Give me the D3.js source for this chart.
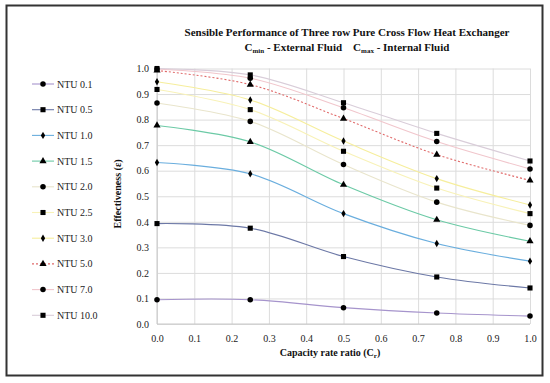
<!DOCTYPE html>
<html>
<head>
<meta charset="utf-8">
<script src="https://cdn.jsdelivr.net/npm/d3@7"></script>
<style>
  body { margin: 0; background: #fff; }
  svg { display: block; font-family: "Liberation Serif", "Times New Roman", serif; }
</style>
</head>
<body>
<svg id="chart" width="550" height="383"></svg>
<script>
// capacity rate ratio values (x)
const crValues = [0, 0.25, 0.5, 0.75, 1.0];
const xTicks = [0, 0.1, 0.2, 0.3, 0.4, 0.5, 0.6, 0.7, 0.8, 0.9, 1.0];
const yTicks = [0, 0.1, 0.2, 0.3, 0.4, 0.5, 0.6, 0.7, 0.8, 0.9, 1.0];

// series names
const seriesNames = ["NTU 0.1", "NTU 0.5", "NTU 1.0", "NTU 1.5", "NTU 2.0",
                     "NTU 2.5", "NTU 3.0", "NTU 5.0", "NTU 7.0", "NTU 10.0"];

// effectiveness for each NTU
const ntu01  = [0.095, 0.095, 0.064, 0.043, 0.031];
const ntu05  = [0.393, 0.375, 0.264, 0.184, 0.141];
const ntu10  = [0.632, 0.588, 0.432, 0.315, 0.246];
const ntu15  = [0.777, 0.713, 0.545, 0.408, 0.324];
const ntu20  = [0.865, 0.793, 0.624, 0.477, 0.386];
const ntu25  = [0.918, 0.839, 0.676, 0.532, 0.432];
const ntu30  = [0.948, 0.877, 0.716, 0.569, 0.466];
const ntu50  = [0.992, 0.937, 0.804, 0.663, 0.562];
const ntu70  = [0.998, 0.962, 0.846, 0.714, 0.607];
const ntu100 = [1.000, 0.975, 0.866, 0.746, 0.638];

const seriesValues = [ntu01, ntu05, ntu10, ntu15, ntu20, ntu25, ntu30, ntu50, ntu70, ntu100];

// look of each series
const seriesColors = ["#a694cc", "#6c78a6", "#6aaede", "#6ccaa6", "#e9e5cc",
                      "#f8f2b8", "#f6ee9c", "#e06a6a", "#f1c6cc", "#d9cdd9"];
const seriesShapes = [d3.symbolCircle, d3.symbolSquare, d3.symbolDiamond, d3.symbolTriangle, d3.symbolCircle,
                      d3.symbolSquare, d3.symbolDiamond, d3.symbolTriangle, d3.symbolCircle, d3.symbolSquare];
const seriesDash = [null, null, null, null, null, null, null, "2,2", null, null];

const svg = d3.select("#chart");

// outer frame
svg.append("rect")
  .attr("x", 6.5).attr("y", 5.5)
  .attr("width", 536).attr("height", 370)
  .attr("fill", "#fff")
  .attr("stroke", "#333").attr("stroke-width", 2);

// scales
const x = d3.scaleLinear().domain([0, 1]).range([157, 530]);
const y = d3.scaleLinear().domain([0, 1]).range([324, 68.5]);

// gridlines
svg.append("g")
  .attr("transform", "translate(0,324)")
  .call(d3.axisBottom(x).tickValues(xTicks).tickSize(-(324 - 68.5)).tickFormat(""))
  .call(g => g.select(".domain").remove())
  .call(g => g.selectAll("line").attr("stroke", "#dcdcdc"));

svg.append("g")
  .attr("transform", "translate(157,0)")
  .call(d3.axisLeft(y).tickValues(yTicks).tickSize(-(530 - 157)).tickFormat(""))
  .call(g => g.select(".domain").remove())
  .call(g => g.selectAll("line").attr("stroke", "#dcdcdc"));

// axis lines
svg.append("line")
  .attr("x1", x(0)).attr("x2", x(0)).attr("y1", y(0)).attr("y2", y(1))
  .attr("stroke", "#c8c8c8");
svg.append("line")
  .attr("x1", x(0)).attr("x2", x(1)).attr("y1", y(0)).attr("y2", y(0))
  .attr("stroke", "#c8c8c8");

// tick labels
const xAxis = svg.append("g")
  .attr("transform", "translate(0,324)")
  .call(d3.axisBottom(x).tickValues(xTicks).tickSize(0).tickPadding(11).tickFormat(d3.format(".1f")));
xAxis.select(".domain").remove();
xAxis.selectAll("text").attr("font-family", "Liberation Serif").attr("font-size", 10).attr("fill", "#222");

const yAxis = svg.append("g")
  .attr("transform", "translate(157,0)")
  .call(d3.axisLeft(y).tickValues(yTicks).tickSize(0).tickPadding(8).tickFormat(d3.format(".1f")));
yAxis.select(".domain").remove();
yAxis.selectAll("text").attr("font-family", "Liberation Serif").attr("font-size", 10).attr("fill", "#222");

// curves
const line = d3.line()
  .x((d, i) => x(crValues[i]))
  .y(d => y(d))
  .curve(d3.curveCatmullRom.alpha(0.5));

seriesValues.forEach((vals, s) => {
  svg.append("path")
    .datum(vals)
    .attr("fill", "none")
    .attr("stroke", seriesColors[s])
    .attr("stroke-width", 1.1)
    .attr("stroke-dasharray", seriesDash[s])
    .attr("d", line);
});

// markers
function symbolSize(shape) {
  if (shape === d3.symbolSquare) return 26;
  if (shape === d3.symbolTriangle) return 22;
  if (shape === d3.symbolDiamond) return 16;
  return 24;
}

seriesValues.forEach((vals, s) => {
  const sym = d3.symbol().type(seriesShapes[s]).size(symbolSize(seriesShapes[s]));
  svg.append("g").selectAll("path")
    .data(vals)
    .join("path")
      .attr("transform", (d, i) => `translate(${x(crValues[i])},${y(d)})`)
      .attr("d", sym)
      .attr("fill", "#000");
});

// legend
const legend = svg.append("g");
seriesNames.forEach((name, s) => {
  const ly = 84 + s * 25.7;
  legend.append("line")
    .attr("x1", 32).attr("x2", 54).attr("y1", ly).attr("y2", ly)
    .attr("stroke", seriesColors[s]).attr("stroke-width", 1.1)
    .attr("stroke-dasharray", seriesDash[s]);
  legend.append("path")
    .attr("transform", `translate(43,${ly})`)
    .attr("d", d3.symbol().type(seriesShapes[s]).size(symbolSize(seriesShapes[s])))
    .attr("fill", "#000");
  legend.append("text")
    .attr("x", 57).attr("y", ly + 3.5)
    .attr("font-size", 10).attr("fill", "#222")
    .text(name);
});

// title
const title = svg.append("text")
  .attr("x", 347).attr("y", 36)
  .attr("text-anchor", "middle")
  .attr("font-size", 11).attr("font-weight", "bold").attr("fill", "#111")
  .text("Sensible Performance of Three row Pure Cross Flow Heat Exchanger");

const sub = svg.append("text")
  .attr("x", 347).attr("y", 51)
  .attr("text-anchor", "middle")
  .attr("font-size", 11).attr("font-weight", "bold").attr("fill", "#111");
sub.append("tspan").text("C");
sub.append("tspan").attr("font-size", 7).attr("dy", 2).text("min");
sub.append("tspan").attr("dy", -2).text(" - External Fluid\u00a0\u00a0\u00a0\u00a0C");
sub.append("tspan").attr("font-size", 7).attr("dy", 2).text("max");
sub.append("tspan").attr("dy", -2).text(" - Internal Fluid");

// axis titles
const xTitle = svg.append("text")
  .attr("x", 330).attr("y", 356)
  .attr("text-anchor", "middle")
  .attr("font-size", 10).attr("font-weight", "bold").attr("fill", "#111");
xTitle.append("tspan").text("Capacity rate ratio (C");
xTitle.append("tspan").attr("font-size", 7).attr("dy", 2).text("r");
xTitle.append("tspan").attr("dy", -2).text(")");

svg.append("text")
  .attr("transform", "translate(121,194) rotate(-90)")
  .attr("text-anchor", "middle")
  .attr("font-size", 10).attr("font-weight", "bold").attr("fill", "#111")
  .text("Effectiveness (\u03b5)");
</script>
</body>
</html>
